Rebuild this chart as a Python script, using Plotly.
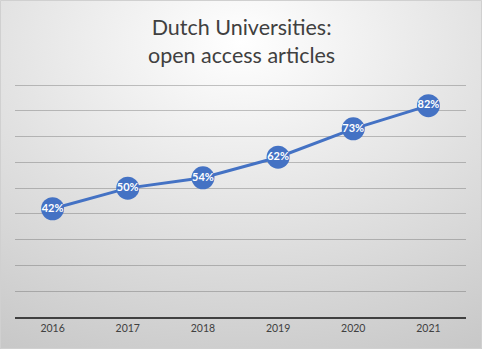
import base64
import plotly.graph_objects as go

# Share of open access articles at Dutch universities
years = ["2016", "2017", "2018", "2019", "2020", "2021"]
open_access_pct = [42, 50, 54, 62, 73, 82]
labels = [f"<b>{v}%</b>" for v in open_access_pct]

W, H = 482, 349
ML, MR, MT, MB = 15, 16, 84, 32
pw, ph = W - ML - MR, H - MT - MB

FONT = "Lato, Liberation Sans, sans-serif"

# Radial grey-to-white backdrop for the whole chart area
svg = f"""<svg xmlns='http://www.w3.org/2000/svg' width='{W}' height='{H}' viewBox='0 0 {W} {H}' preserveAspectRatio='none'>
<defs><radialGradient id='g' cx='50%' cy='12%' r='100%' fx='50%' fy='12%'>
<stop offset='0' stop-color='#ffffff'/>
<stop offset='0.55' stop-color='#e0e0e0'/>
<stop offset='1' stop-color='#c8c8c8'/>
</radialGradient></defs>
<rect width='{W}' height='{H}' fill='url(#g)'/></svg>"""
bg_uri = "data:image/svg+xml;base64," + base64.b64encode(svg.encode()).decode()

fig = go.Figure()
fig.add_trace(go.Scatter(
    x=years,
    y=open_access_pct,
    mode="lines+markers+text",
    text=labels,
    textposition="middle center",
    textfont=dict(family=FONT, size=11, color="white"),
    line=dict(color="#4472C4", width=3),
    marker=dict(size=23, color="#4472C4", line=dict(width=0)),
    hoverinfo="skip",
    cliponaxis=False,
))

fig.update_layout(
    width=W,
    height=H,
    margin=dict(l=ML, r=MR, t=MT, b=MB),
    paper_bgcolor="#d4d4d4",
    plot_bgcolor="rgba(0,0,0,0)",
    showlegend=False,
    xaxis=dict(
        type="category",
        range=[-0.5, 5.5],
        showgrid=False,
        showline=True,
        linecolor="#404040",
        linewidth=2,
        ticks="",
        tickfont=dict(family=FONT, size=10.5, color="#404040"),
        fixedrange=True,
    ),
    yaxis=dict(
        range=[0, 90.4],
        tickmode="array",
        tickvals=[10, 20, 30, 40, 50, 60, 70, 80, 90],
        showgrid=True,
        gridcolor="rgba(90,90,90,0.35)",
        gridwidth=1,
        zeroline=False,
        showticklabels=False,
        fixedrange=True,
    ),
    annotations=[dict(
        text="Dutch Universities:<br>open access articles",
        xref="paper", yref="paper",
        x=0.5 - (ML - MR) / (2 * pw), y=1 + (MT - 41) / ph,
        xanchor="center", yanchor="middle",
        showarrow=False,
        align="center",
        font=dict(family=FONT, size=21.5, color="#404040"),
    )],
    images=[dict(
        source=bg_uri,
        xref="paper", yref="paper",
        x=-ML / pw, y=1 + MT / ph,
        sizex=W / pw, sizey=H / ph,
        xanchor="left", yanchor="top",
        sizing="stretch",
        layer="below",
    )],
    shapes=[dict(
        type="rect",
        xref="paper", yref="paper",
        x0=-ML / pw + 0.5 / pw, x1=1 + (MR - 0.5) / pw,
        y0=-(MB - 0.5) / ph, y1=1 + (MT - 0.5) / ph,
        line=dict(color="#d0d0d0", width=1),
        fillcolor="rgba(0,0,0,0)",
        layer="above",
    )],
)

fig.write_html("out.html")
